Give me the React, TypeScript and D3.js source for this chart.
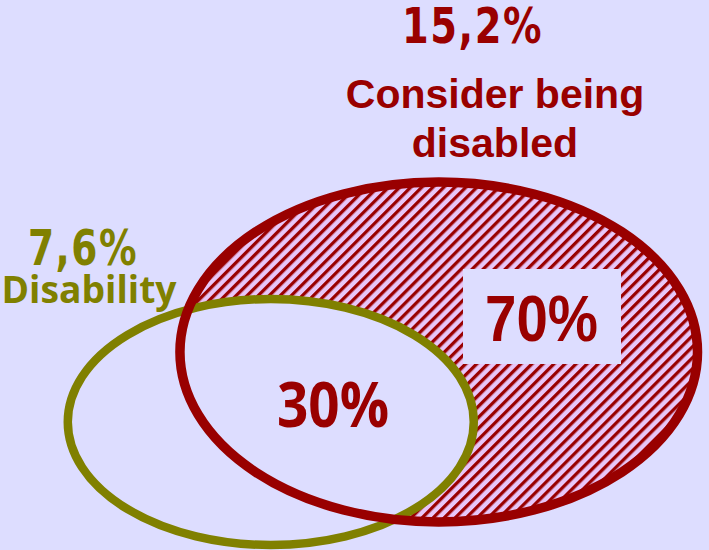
import React from "react";
import * as d3 from "d3";

// ---- data ----
const groupNames = ["Consider being", "disabled"];
const groupShare = 15.2;
const subsetName = "Disability";
const subsetShare = 7.6;
const regionLabels = [30, 70]; // overlap share, non-overlap share

const W = 709;
const H = 550;
const BG = "#DDDDFF";
const RED = "#990000";
const OLIVE = "#808000";
const HATCH_BG = "#E8C6F8";

const fmtPct = (v: number) => d3.format(".1f")(v).replace(".", ",") + "%";
const fmtInt = (v: number) => d3.format("d")(v) + "%";

// layout scales (unit space -> pixels)
const x = d3.scaleLinear().domain([0, 1]).range([0, W]);
const y = d3.scaleLinear().domain([0, 1]).range([0, H]);

export default function App() {
  const red = { cx: x(0.6188), cy: y(0.64), rx: x(0.365), ry: y(0.309) };
  const green = { cx: x(0.3819), cy: y(0.7673), rx: x(0.2863), ry: y(0.2236) };

  return (
    <svg
      width={W}
      height={H}
      style={{ position: "absolute", left: 0, top: 0, display: "block" }}
    >
      <defs>
        <pattern
          id="hatch"
          patternUnits="userSpaceOnUse"
          width={7.8}
          height={7.8}
          patternTransform="rotate(45)"
        >
          <rect width={7.8} height={7.8} fill={HATCH_BG} />
          <rect x={0} width={3.3} height={7.8} fill={RED} />
        </pattern>
      </defs>
      <rect width={W} height={H} fill={BG} />

      {/* big set: hatched fill */}
      <ellipse cx={red.cx} cy={red.cy} rx={red.rx} ry={red.ry} fill="url(#hatch)" />

      {/* 70% box */}
      <rect x={463} y={269} width={158} height={95} fill={BG} />
      <text
        x={541.5}
        y={341}
        textAnchor="middle"
        fontFamily="Liberation Sans, Arial, sans-serif"
        fontWeight="bold"
        fontSize={65}
        fill={RED}
        textLength={113}
        lengthAdjust="spacingAndGlyphs"
      >
        {fmtInt(regionLabels[1])}
      </text>

      {/* subset ellipse */}
      <ellipse
        cx={green.cx}
        cy={green.cy}
        rx={green.rx}
        ry={green.ry}
        fill={BG}
        stroke={OLIVE}
        strokeWidth={8.5}
      />

      {/* big set outline on top */}
      <ellipse
        cx={red.cx}
        cy={red.cy}
        rx={red.rx}
        ry={red.ry}
        fill="none"
        stroke={RED}
        strokeWidth={9.5}
      />

      {/* 30% */}
      <text
        x={333}
        y={427}
        textAnchor="middle"
        fontFamily="Open Sans, sans-serif"
        fontWeight="bold"
        fontSize={62}
        fill={RED}
        textLength={112}
        lengthAdjust="spacingAndGlyphs"
      >
        {fmtInt(regionLabels[0])}
      </text>

      {/* big set labels */}
      <text
        x={472.5}
        y={43}
        textAnchor="middle"
        fontFamily="DejaVu Sans, sans-serif"
        fontWeight="bold"
        fontSize={50}
        fill={RED}
        textLength={141}
        lengthAdjust="spacingAndGlyphs"
        letterSpacing={2}
      >
        {fmtPct(groupShare)}
      </text>
      {groupNames.map((t, i) => (
        <text
          key={t}
          x={495}
          y={108 + i * 49}
          textAnchor="middle"
          fontFamily="Liberation Sans, Arial, sans-serif"
          fontWeight="bold"
          fontSize={41}
          fill={RED}
        >
          {t}
        </text>
      ))}

      {/* subset labels */}
      <text
        x={83}
        y={265}
        textAnchor="middle"
        fontFamily="DejaVu Sans, sans-serif"
        fontWeight="bold"
        fontSize={50}
        fill={OLIVE}
        textLength={110}
        lengthAdjust="spacingAndGlyphs"
        letterSpacing={2}
      >
        {fmtPct(subsetShare)}
      </text>
      <text
        x={89}
        y={303}
        textAnchor="middle"
        fontFamily="Open Sans, sans-serif"
        fontWeight="bold"
        fontSize={38}
        fill={OLIVE}
        textLength={175}
        lengthAdjust="spacingAndGlyphs"
      >
        {subsetName}
      </text>
    </svg>
  );
}
